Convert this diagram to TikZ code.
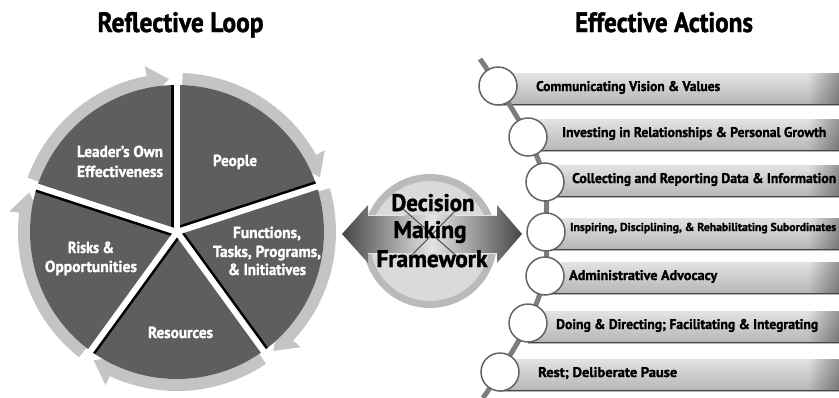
\documentclass[tikz,border=0pt]{standalone}
\usepackage{fontspec}
\usepackage{graphicx}
\setmainfont{PT Sans}[FakeStretch=0.82, BoldFeatures={FakeBold=1.3}]
\usetikzlibrary{fadings,calc}
\newcommand\fitw[2]{\resizebox{#1pt}{\height}{#2}}
\definecolor{pieC}{RGB}{94,94,96}
\definecolor{ringC}{RGB}{196,196,198}
\definecolor{midC}{RGB}{218,218,220}
\definecolor{midR}{RGB}{186,186,188}
\definecolor{arrD}{RGB}{70,70,72}
\definecolor{arrL}{RGB}{228,228,230}
\definecolor{chainC}{RGB}{125,125,127}
\definecolor{circD}{RGB}{100,100,102}
\tikzset{
  titletxt/.style={font=\bfseries\fontsize{28}{30}\selectfont, inner sep=0pt, anchor=base},
  pietxt/.style={font=\bfseries\fontsize{16}{19}\selectfont, text=white, inner sep=0pt, anchor=base},
  midtxt/.style={font=\bfseries\fontsize{24}{28}\selectfont, inner sep=0pt, anchor=base},
  bartxt/.style={font=\bfseries\fontsize{14}{16}\selectfont, inner sep=0pt, anchor=base west},
  ccirc/.style={circle, fill=white, draw=circD, line width=1.5pt, minimum size=38pt, inner sep=0pt},
  barshade/.style={top color=gray!22, middle color=white, bottom color=gray!58},
}
\begin{document}
\begin{tikzpicture}[x=1pt,y=-1pt]
\useasboundingbox (0,0) rectangle (839,397);
% titles
\node[titletxt] (t1) at (180.5,32) {\fitw{166}{Reflective Loop}};
\node[titletxt] (t2) at (664,32) {\fitw{178}{Effective Actions}};
% ---------- reflective loop ----------
\begin{scope}[shift={(177,232)}, yscale=-1]
  \foreach \s in {162,90,18,-54,-126} {
    \draw[ringC, line width=12pt] (\s-2:153) arc[start angle=\s-2, end angle=\s-62, radius=153];
    \fill[ringC] (\s-61:137) -- (\s-61:169) -- (\s-69:153) -- cycle;
  }
  \fill[pieC] (0,0) circle[radius=147];
  \begin{scope}
    \clip (0,0) circle[radius=147];
    \foreach \a in {162,90,18,-54,-126} {
      \draw[black, line width=6pt] (\a+90:2.6) -- ++(\a:160);
    }
  \end{scope}
  \foreach \a in {162,90,18,-54,-126} {
    \draw[white, line width=6pt] (0,0) -- (\a:163);
  }
\end{scope}
\node[pietxt] (l1a) at (120,157) {\fitw{86}{Leader’s Own}};
\node[pietxt] (l1b) at (120,177) {\fitw{86}{Effectiveness}};
\node[pietxt] (l2) at (235,166) {\fitw{44}{People}};
\node[pietxt] (l3a) at (267,238) {\fitw{68}{Functions,}};
\node[pietxt] (l3b) at (267,257) {\fitw{108}{Tasks, Programs,}};
\node[pietxt] (l3c) at (267,275) {\fitw{78}{\& Initiatives}};
\node[pietxt] (l4) at (180.5,338) {\fitw{65}{Resources}};
\node[pietxt] (l5a) at (91,253) {\fitw{46}{Risks \&}};
\node[pietxt] (l5b) at (91,272) {\fitw{92}{Opportunities}};
% ---------- decision making framework ----------
\node[circle, fill=midC, draw=midR, line width=7pt, minimum size=127pt, inner sep=0pt] (dmf) at (430,241) {};
\shade[left color=arrD, right color=arrD, middle color=arrL]
  (342,234) -- (368,205) -- (368,215) -- (497,215) -- (497,205) -- (522,234)
  -- (497,263) -- (497,253) -- (368,253) -- (368,263) -- cycle;
\draw[white!80!gray, line width=0.8pt] (368,215) -- (405,215) (368,253) -- (405,253)
  (455,215) -- (497,215) (455,253) -- (497,253);
\draw[arrD, line width=0.9pt] (403,209) -- (459,258) (457,209) -- (409,258);
\node[midtxt] (m1) at (433,211) {\fitw{83}{Decision}};
\node[midtxt] (m2) at (430,238) {\fitw{73}{Making}};
\node[midtxt] (m3) at (432,267) {\fitw{111}{Framework}};
% ---------- effective actions ----------
\coordinate (ctop) at (480,59);
\coordinate (p1) at (498,86);
\coordinate (p2) at (528,137);
\coordinate (p3) at (545,182);
\coordinate (p4) at (546,232);
\coordinate (p5) at (545,276);
\coordinate (p6) at (528,323);
\coordinate (p7) at (500,372);
\coordinate (cbot) at (483,398);
\foreach \cx/\b in {498/91,528/137,545/183,546/236,545/280,528/329,500/377} {
  \shade[barshade] (\cx,\b-18) rectangle (839,\b+14);
  \fill[black, opacity=0.35, path fading=west] (808,\b-18) rectangle (839,\b+14);
  \draw[gray!55!black, line width=1pt] (\cx,\b+13.5) -- (839,\b+13.5);
}
\draw[chainC, line width=5pt] plot[smooth, tension=0.55] coordinates {(ctop) (p1) (p2) (p3) (p4) (p5) (p6) (p7) (cbot)};
\node[ccirc] (c1) at (p1) {};
\node[ccirc] (c2) at (p2) {};
\node[ccirc] (c3) at (p3) {};
\node[ccirc] (c4) at (p4) {};
\node[ccirc] (c5) at (p5) {};
\node[ccirc] (c6) at (p6) {};
\node[ccirc] (c7) at (p7) {};
\node[bartxt] (b1) at (536,91) {\fitw{184}{Communicating Vision \& Values}};
\node[bartxt] (b2) at (562,137) {\fitw{264}{Investing in Relationships \& Personal Growth}};
\node[bartxt] (b3) at (572,183) {\fitw{264}{Collecting and Reporting Data \& Information}};
\node[bartxt, font=\bfseries\fontsize{11.5}{13}\selectfont] (b4) at (570,231) {\fitw{266}{Inspiring, Disciplining, \& Rehabilitating Subordinates}};
\node[bartxt] (b5) at (569,280) {\fitw{148}{Administrative Advocacy}};
\node[bartxt] (b6) at (556,329) {\fitw{262}{Doing \& Directing; Facilitating \& Integrating}};
\node[bartxt] (b7) at (538,377) {\fitw{139}{Rest; Deliberate Pause}};
\end{tikzpicture}
\end{document}
